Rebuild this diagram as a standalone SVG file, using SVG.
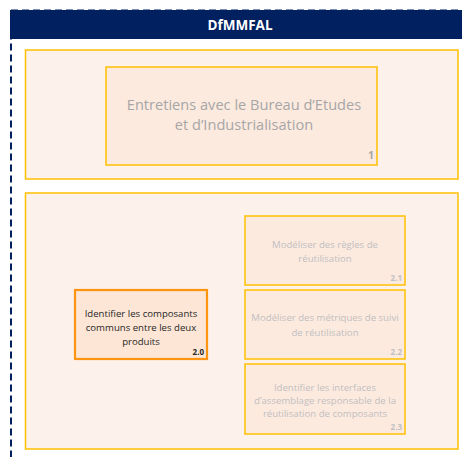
<svg xmlns="http://www.w3.org/2000/svg" width="462" height="457" viewBox="0 0 462 457">
<style>
.panel{fill:#fdf1ec;stroke:#ffc000;stroke-width:1.5}
.node{fill:#fdeadf;stroke:#ffc000;stroke-width:1.5}
.act{fill:#fde6d6;stroke:#ff9410;stroke-width:2.2}
.t{font-family:"Open Sans","Liberation Sans",sans-serif;text-anchor:middle}
.g1{fill:#a6a6a6;font-size:14.6px}
.g2{fill:#bfbfbf;font-size:9.6px}
.k{fill:#262626;font-size:9.6px}
.num{font-family:"Open Sans","Liberation Sans",sans-serif;font-weight:bold;text-anchor:end;font-size:8px}
</style>
<rect width="462" height="457" fill="#ffffff"/>
<g id="frame">
<rect x="10" y="10" width="470" height="29" fill="#002060"/>
<path d="M11 10.5 H470 M11 10.5 V457" fill="none" stroke="#002060" stroke-width="2" stroke-dasharray="7 4"/>
<text x="240" y="30" class="t" fill="#ffffff" font-weight="bold" font-size="13.5">DfMMFAL</text>
</g>
<g id="panel1">
<rect class="panel" x="25.5" y="50" width="432.5" height="129"/>
</g>
<g id="panel2">
<rect class="panel" x="25.5" y="193" width="432.5" height="256"/>
</g>
<g id="node1">
<rect class="node" x="106" y="67" width="271" height="98"/>
<text class="t g1" x="244" y="110">Entretiens avec le Bureau d’Etudes</text>
<text class="t g1" x="244" y="130">et d’Industrialisation</text>
<text class="num" x="374" y="159" fill="#a6a6a6" style="font-size:10.5px">1</text>
</g>
<g id="node2_0">
<rect class="act" x="75" y="290" width="132" height="69"/>
<text class="t k" x="141" y="317">Identifier les composants</text>
<text class="t k" x="141" y="331">communs entre les deux</text>
<text class="t k" x="141" y="345">produits</text>
<text class="num" x="204" y="355" fill="#262626">2.0</text>
</g>
<g id="node2_1">
<rect class="node" x="245" y="216" width="160" height="69"/>
<text class="t g2" x="325" y="248">Modéliser des règles de</text>
<text class="t g2" x="325" y="262">réutilisation</text>
<text class="num" x="402" y="281" fill="#bfbfbf">2.1</text>
</g>
<g id="node2_2">
<rect class="node" x="245" y="290" width="160" height="69"/>
<text class="t g2" x="325" y="321">Modéliser des métriques de suivi</text>
<text class="t g2" x="325" y="336">de réutilisation</text>
<text class="num" x="402" y="355" fill="#bfbfbf">2.2</text>
</g>
<g id="node2_3">
<rect class="node" x="245" y="364" width="160" height="70"/>
<text class="t g2" x="325" y="391">Identifier les interfaces</text>
<text class="t g2" x="325" y="404">d’assemblage responsable de la</text>
<text class="t g2" x="325" y="417">réutilisation de composants</text>
<text class="num" x="402" y="430" fill="#bfbfbf">2.3</text>
</g>
<g id="connectors"/>
</svg>
